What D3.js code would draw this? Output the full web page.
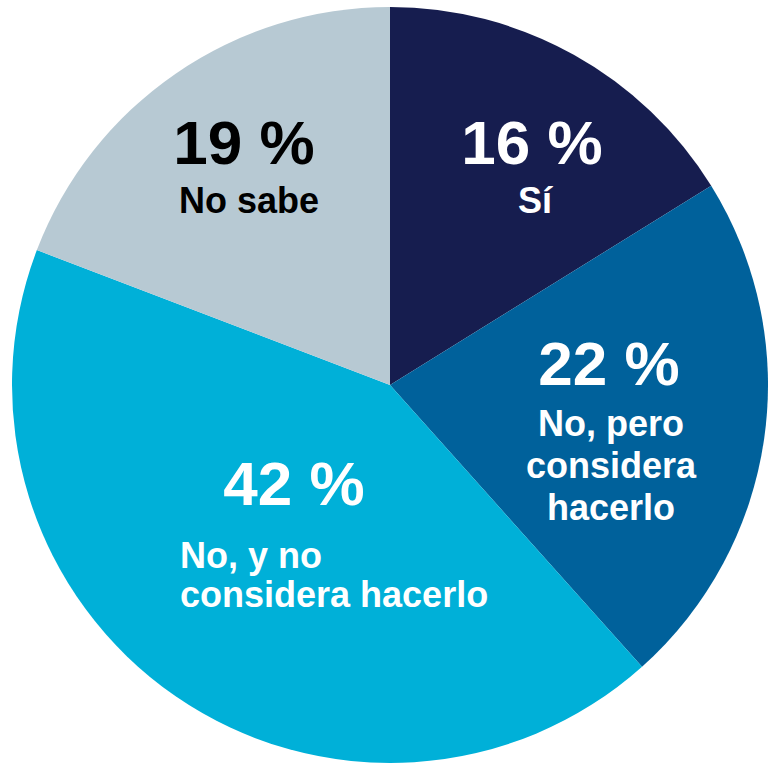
<!DOCTYPE html>
<html>
<head>
<meta charset="utf-8">
<script src="https://cdnjs.cloudflare.com/ajax/libs/d3/7.8.5/d3.min.js"></script>
<style>
    html, body { margin: 0; padding: 0; background: #fff; }
    svg text { font-family: "Liberation Sans", Arial, sans-serif; font-weight: bold; }
</style>
</head>
<body>
<svg id="pie" width="768" height="764"></svg>
<script>
var categories = ['Sí', 'No, pero considera hacerlo', 'No, y no considera hacerlo', 'No sabe'];
var values = [16, 22, 42, 19];
var labelLines = [['Sí'], ['No, pero', 'considera', 'hacerlo'], ['No, y no', 'considera hacerlo'], ['No sabe']];

(function(){
    var svg = d3.select('#pie'),
        cx = 390,
        cy = 385,
        radius = 378;

    var color = d3.scaleOrdinal()
        .domain(categories)
        .range(['#161d4f', '#00619b', '#00b0d8', '#b7c9d3']);

    var textColor = ['#fff', '#fff', '#fff', '#000'];

    // label placement: [x, y of percent baseline, anchor, x of sub-lines, line height]
    var labelPos = [
        {x: 532, y: 164, anchor: 'middle', lx: 535, ly: 213, lh: 42},
        {x: 609, y: 385, anchor: 'middle', lx: 611, ly: 436, lh: 42},
        {x: 294, y: 505, anchor: 'start', lx: 180, ly: 568, lh: 39},
        {x: 244, y: 164, anchor: 'middle', lx: 249, ly: 213, lh: 42}
    ];

    var pie = d3.pie().sort(null).value(function(d) { return d.value; });
    var arc = d3.arc().innerRadius(0).outerRadius(radius);

    var data = categories.map(function(c, i) {
        return {name: c, value: values[i], lines: labelLines[i], idx: i};
    });

    var g = svg.append('g').attr('transform', 'translate(' + cx + ',' + cy + ')');

    g.selectAll('path')
        .data(pie(data))
        .enter().append('path')
        .attr('d', arc)
        .attr('fill', function(d) { return color(d.data.name); });

    var labels = svg.selectAll('g.label')
        .data(data)
        .enter().append('g')
        .attr('class', 'label')
        .attr('fill', function(d) { return textColor[d.idx]; });

    labels.append('text')
        .attr('x', function(d) { return labelPos[d.idx].x; })
        .attr('y', function(d) { return labelPos[d.idx].y; })
        .attr('text-anchor', 'middle')
        .style('font-size', '62px')
        .text(function(d) { return d.value + ' %'; });

    labels.each(function(d) {
        var p = labelPos[d.idx];
        d3.select(this).selectAll('text.sub')
            .data(d.lines)
            .enter().append('text')
            .attr('class', 'sub')
            .attr('x', p.lx)
            .attr('y', function(t, j) { return p.ly + j * p.lh; })
            .attr('text-anchor', p.anchor)
            .style('font-size', '36px')
            .text(function(t) { return t; });
    });
})();
</script>
</body>
</html>
